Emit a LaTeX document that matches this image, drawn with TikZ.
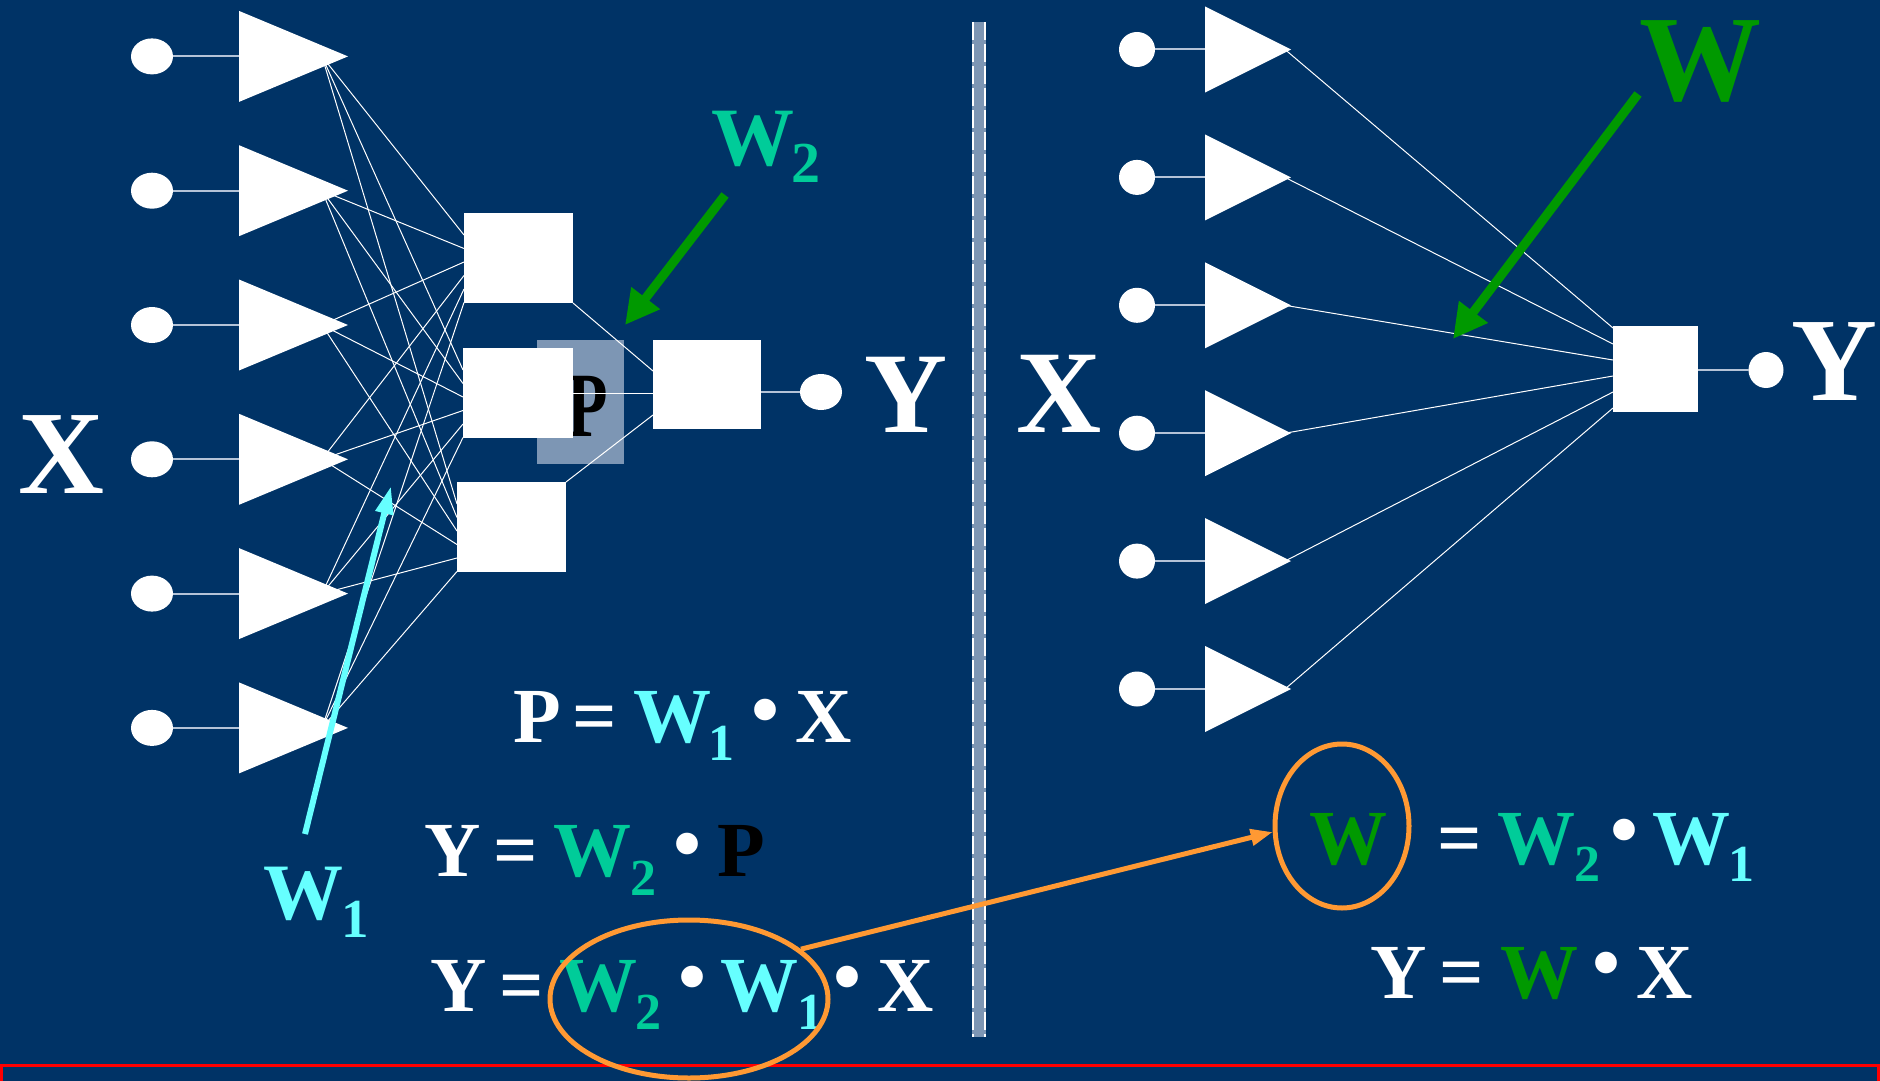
\documentclass[tikz,border=0pt]{standalone}
\usepackage{fontspec}
\setmainfont{Liberation Serif}
\usetikzlibrary{arrows.meta,calc,shapes.geometric}
\definecolor{bg}{RGB}{0,51,102}
\definecolor{wone}{RGB}{102,255,255}
\definecolor{wtwo}{RGB}{0,204,153}
\definecolor{wgreen}{RGB}{0,153,0}
\definecolor{orng}{RGB}{255,153,51}
\definecolor{steel}{RGB}{125,150,180}
\definecolor{linkc}{RGB}{180,195,215}
\begin{document}
\begin{tikzpicture}[x=1pt,y=-1pt,
  wire/.style={draw=white, line width=1pt},
  link/.style={draw=linkc, line width=2pt},
  sq/.style={rectangle, fill=white, draw=none, inner sep=0pt, outer sep=0pt},
  blob/.style={ellipse, fill=white, draw=none, inner sep=0pt, outer sep=0pt},
  tok/.style={anchor=base, inner sep=0pt, outer sep=0pt, font=\bfseries\fontsize{78}{80}\selectfont, text=white},
  sub/.style={anchor=base, inner sep=0pt, outer sep=0pt, font=\bfseries\fontsize{52}{54}\selectfont, text=white},
  dotc/.style={anchor=center, inner sep=0pt, outer sep=0pt, font=\bfseries\fontsize{80}{80}\selectfont, text=white},
  lab/.style={anchor=base, inner sep=0pt, outer sep=0pt, font=\bfseries\fontsize{#1}{#1}\selectfont, text=white},
  ring/.style={ellipse, draw=orng, line width=5pt, inner sep=0pt, fill=none}
]
\fill[bg] (0,0) rectangle (1880,1081);
\useasboundingbox (0,0) rectangle (1880,1081);
\clip (0,0) rectangle (1880,1081);

% separator
\fill[steel] (972,22) rectangle (986,1037);
\draw[white, line width=1.2pt, dash pattern=on 18pt off 4pt] (973,22) -- (973,1037);
\draw[white, line width=1.2pt, dash pattern=on 18pt off 4pt] (985,22) -- (985,1037);

% red frame at bottom
\draw[red, line width=3pt] (1.5,1095) -- (1.5,1065) -- (1878.5,1065) -- (1878.5,1095);

% ---------------- left network ----------------
\node[fill=steel, draw=none, minimum width=87pt, minimum height=124pt, inner sep=0pt] (pbox) at (580.5,402) {};
\node[lab=92, text=black] (plab) at (587.5,436) {\scalebox{0.72}[1]{P}};

\node[sq, minimum width=109pt, minimum height=90pt] (s1) at (518.5,258) {};
\node[sq, minimum width=110pt, minimum height=90pt] (s2) at (518,393) {};
\node[sq, minimum width=109pt, minimum height=90pt] (s3) at (511.5,527) {};
\node[sq, minimum width=108pt, minimum height=89pt] (so) at (707,384.5) {};
\node[blob, minimum width=42pt, minimum height=36pt] (oc) at (821,392) {};

\foreach \i in {0,...,5}{
  \pgfmathsetmacro\cy{56.4+134.3*\i}
  \coordinate (lt\i) at (322,\cy);
  \coordinate (ll\i) at (239,\cy);
  \node[blob, minimum width=42pt, minimum height=36pt] (lc\i) at (152,\cy) {};
}
\foreach \i in {0,...,5}{
  \foreach \s in {s1,s2,s3}{
    \draw[wire] (lt\i) -- ($(\s.north west)+(0,{22+13.5*\i})$);
  }
  \draw[link] (lc\i.east) -- (ll\i);
}
\foreach \i in {0,...,5}{
  \pgfmathsetmacro\cy{56.4+134.3*\i}
  \fill[white] (239,{\cy-45.5}) -- (348,\cy) -- (239,{\cy+45.5}) -- cycle;
}
\draw[wire] (s1.south east) -- ($(so.north west)+(0,31)$);
\draw[wire] (s3.north east) -- ($(so.north west)+(0,75)$);
\draw[wire] (s2.east) -- (s2.east -| so.west);
\draw[link] (so.east |- oc.west) -- (oc.west);

% ---------------- right network ----------------
\node[sq, minimum width=85pt, minimum height=86pt] (rs) at (1655.5,369) {};
\node[blob, minimum width=35pt, minimum height=36pt] (roc) at (1766,370) {};
\foreach \i in {0,...,5}{
  \pgfmathsetmacro\cy{49.5+127.9*\i}
  \coordinate (rt\i) at (1285,\cy);
  \coordinate (rl\i) at (1205,\cy);
  \node[blob, minimum width=36pt, minimum height=35pt] (rc\i) at (1137,\cy) {};
}
\foreach \i in {0,...,5}{
  \draw[wire] (rt\i) -- ($(rs.north west)+(0,{2+16*\i})$);
  \draw[link] (rc\i.east) -- (rl\i);
}
\foreach \i in {0,...,5}{
  \pgfmathsetmacro\cy{49.5+127.9*\i}
  \fill[white] (1205,{\cy-43}) -- (1291,\cy) -- (1205,{\cy+43}) -- cycle;
}
\draw[link] (rs.east |- roc.west) -- (roc.west);

% ---------------- labels ----------------
\node[lab=119] (xl) at (61.5,493) {X};
\node[lab=115] (yl) at (906.5,432) {Y};
\node[lab=118] (xr) at (1059,432) {X};
\node[lab=119] (yr) at (1834,400) {Y};
\node[lab=122, text=wgreen] (wbig) at (1700,100) {W};
\node[lab=83, text=wtwo] (w2l) at (753,165) {W};
\node[lab=58, text=wtwo] (w2s) at (806,182) {2};
\node[lab=80, text=wone] (w1l) at (303,919) {W};
\node[lab=55, text=wone] (w1s) at (355,937) {1};

% ---------------- arrows ----------------
\coordinate (w1tail) at (305,834);
\coordinate (w1tip) at (391,486);
\draw[wone, line width=6pt, -{Triangle[length=28pt,width=17pt]}] (w1tail) -- (w1tip);
\coordinate (w2tail) at (725,195);
\coordinate (w2tip) at (625,325);
\draw[wgreen, line width=9pt, -{Triangle[length=34pt,width=34pt]}] (w2tail) -- (w2tip);
\coordinate (wtail) at (1638,94);
\coordinate (wtip) at (1453,339);
\draw[wgreen, line width=9pt, -{Triangle[length=34pt,width=34pt]}] (wtail) -- (wtip);

% ---------------- formulas ----------------
\node[tok] (f1p) at (537.5,742) {P};
\node[tok] (f1eq) at (595,742) {=};
\node[tok, text=wone] (f1w) at (672,742) {W};
\node[sub, text=wone] (f1s) at (721.5,760) {1};
\node[dotc] (f1d) at (765,718) {•};
\node[tok] (f1x) at (824,742) {X};

\node[tok] (f2y) at (452.5,876) {Y};
\node[tok] (f2eq) at (516,876) {=};
\node[tok, text=wtwo] (f2w) at (592,876) {W};
\node[sub, text=wtwo] (f2s) at (643.5,895) {2};
\node[dotc] (f2d) at (687,852) {•};
\node[tok, text=black] (f2p) at (741,876) {P};

\node[tok] (f3y) at (458.5,1011) {Y};
\node[tok] (f3eq) at (521.5,1011) {=};
\node[tok, text=wtwo] (f3w) at (598,1011) {W};
\node[sub, text=wtwo] (f3s) at (648.5,1029) {2};
\node[dotc] (f3d) at (692,985) {•};
\node[tok, text=wone] (f3v) at (759.5,1011) {W};
\node[sub, text=wone] (f3t) at (810,1029) {1};
\node[dotc] (f3e) at (847,985) {•};
\node[tok] (f3x) at (906,1011) {X};

\node[tok, text=wgreen] (f4w) at (1348,864) {W};
\node[tok] (f4eq) at (1459.5,864) {=};
\node[tok, text=wtwo] (f4a) at (1536,864) {W};
\node[sub, text=wtwo] (f4s) at (1587,881) {2};
\node[dotc] (f4d) at (1624.5,838) {•};
\node[tok, text=wone] (f4b) at (1691,864) {W};
\node[sub, text=wone] (f4t) at (1741,881) {1};

\node[tok] (f5y) at (1398.5,998) {Y};
\node[tok] (f5eq) at (1461.5,998) {=};
\node[tok, text=wgreen] (f5w) at (1539,998) {W};
\node[dotc] (f5d) at (1606.5,971) {•};
\node[tok] (f5x) at (1664.5,998) {X};

% ---------------- orange rings and arrow ----------------
\node[ring, minimum width=278pt, minimum height=158pt] (oe1) at (689,999) {};
\node[ring, minimum width=134pt, minimum height=164pt] (oe2) at (1342,826) {};
\draw[orng, line width=5pt, -{Triangle[length=22pt,width=16pt]}] (oe1.24) -- (oe2.185);
\end{tikzpicture}
\end{document}
